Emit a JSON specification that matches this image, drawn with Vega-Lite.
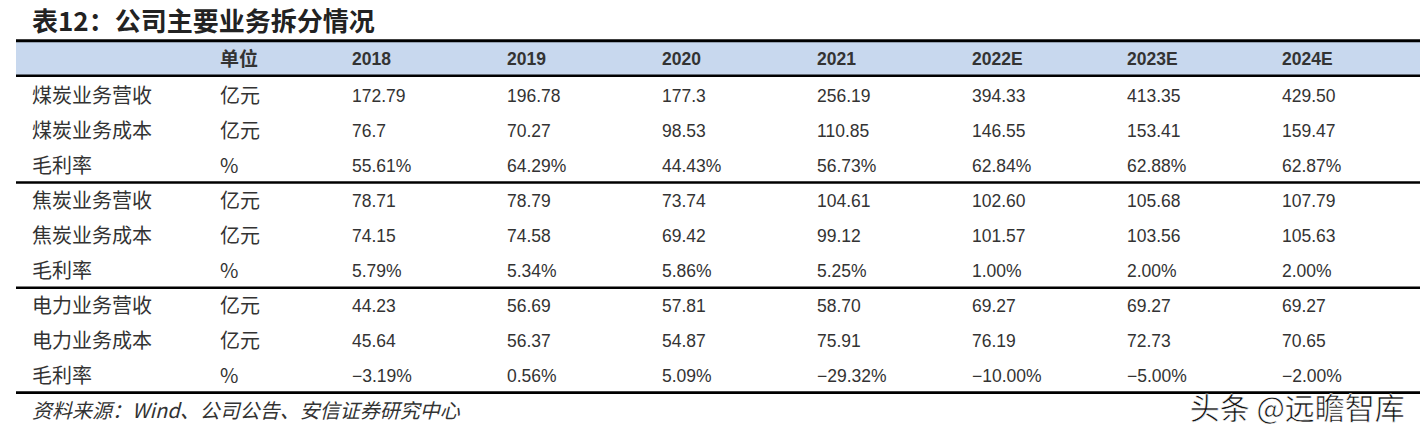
{
  "$schema": "https://vega.github.io/schema/vega-lite/v6.json",
  "width": 1420,
  "height": 438,
  "autosize": {"type": "fit", "contains": "padding"},
  "padding": 0,
  "background": "white",
  "config": {"view": {"stroke": null}},
  "datasets": {
    "cells": [
      {"r": 0, "c": 1, "t": "单位"},
      {"r": 0, "c": 2, "t": "2018"},
      {"r": 0, "c": 3, "t": "2019"},
      {"r": 0, "c": 4, "t": "2020"},
      {"r": 0, "c": 5, "t": "2021"},
      {"r": 0, "c": 6, "t": "2022E"},
      {"r": 0, "c": 7, "t": "2023E"},
      {"r": 0, "c": 8, "t": "2024E"},

      {"r": 1, "c": 0, "t": "煤炭业务营收"},
      {"r": 1, "c": 1, "t": "亿元"},
      {"r": 1, "c": 2, "t": "172.79"},
      {"r": 1, "c": 3, "t": "196.78"},
      {"r": 1, "c": 4, "t": "177.3"},
      {"r": 1, "c": 5, "t": "256.19"},
      {"r": 1, "c": 6, "t": "394.33"},
      {"r": 1, "c": 7, "t": "413.35"},
      {"r": 1, "c": 8, "t": "429.50"},

      {"r": 2, "c": 0, "t": "煤炭业务成本"},
      {"r": 2, "c": 1, "t": "亿元"},
      {"r": 2, "c": 2, "t": "76.7"},
      {"r": 2, "c": 3, "t": "70.27"},
      {"r": 2, "c": 4, "t": "98.53"},
      {"r": 2, "c": 5, "t": "110.85"},
      {"r": 2, "c": 6, "t": "146.55"},
      {"r": 2, "c": 7, "t": "153.41"},
      {"r": 2, "c": 8, "t": "159.47"},

      {"r": 3, "c": 0, "t": "毛利率"},
      {"r": 3, "c": 1, "t": "%"},
      {"r": 3, "c": 2, "t": "55.61%"},
      {"r": 3, "c": 3, "t": "64.29%"},
      {"r": 3, "c": 4, "t": "44.43%"},
      {"r": 3, "c": 5, "t": "56.73%"},
      {"r": 3, "c": 6, "t": "62.84%"},
      {"r": 3, "c": 7, "t": "62.88%"},
      {"r": 3, "c": 8, "t": "62.87%"},

      {"r": 4, "c": 0, "t": "焦炭业务营收"},
      {"r": 4, "c": 1, "t": "亿元"},
      {"r": 4, "c": 2, "t": "78.71"},
      {"r": 4, "c": 3, "t": "78.79"},
      {"r": 4, "c": 4, "t": "73.74"},
      {"r": 4, "c": 5, "t": "104.61"},
      {"r": 4, "c": 6, "t": "102.60"},
      {"r": 4, "c": 7, "t": "105.68"},
      {"r": 4, "c": 8, "t": "107.79"},

      {"r": 5, "c": 0, "t": "焦炭业务成本"},
      {"r": 5, "c": 1, "t": "亿元"},
      {"r": 5, "c": 2, "t": "74.15"},
      {"r": 5, "c": 3, "t": "74.58"},
      {"r": 5, "c": 4, "t": "69.42"},
      {"r": 5, "c": 5, "t": "99.12"},
      {"r": 5, "c": 6, "t": "101.57"},
      {"r": 5, "c": 7, "t": "103.56"},
      {"r": 5, "c": 8, "t": "105.63"},

      {"r": 6, "c": 0, "t": "毛利率"},
      {"r": 6, "c": 1, "t": "%"},
      {"r": 6, "c": 2, "t": "5.79%"},
      {"r": 6, "c": 3, "t": "5.34%"},
      {"r": 6, "c": 4, "t": "5.86%"},
      {"r": 6, "c": 5, "t": "5.25%"},
      {"r": 6, "c": 6, "t": "1.00%"},
      {"r": 6, "c": 7, "t": "2.00%"},
      {"r": 6, "c": 8, "t": "2.00%"},

      {"r": 7, "c": 0, "t": "电力业务营收"},
      {"r": 7, "c": 1, "t": "亿元"},
      {"r": 7, "c": 2, "t": "44.23"},
      {"r": 7, "c": 3, "t": "56.69"},
      {"r": 7, "c": 4, "t": "57.81"},
      {"r": 7, "c": 5, "t": "58.70"},
      {"r": 7, "c": 6, "t": "69.27"},
      {"r": 7, "c": 7, "t": "69.27"},
      {"r": 7, "c": 8, "t": "69.27"},

      {"r": 8, "c": 0, "t": "电力业务成本"},
      {"r": 8, "c": 1, "t": "亿元"},
      {"r": 8, "c": 2, "t": "45.64"},
      {"r": 8, "c": 3, "t": "56.37"},
      {"r": 8, "c": 4, "t": "54.87"},
      {"r": 8, "c": 5, "t": "75.91"},
      {"r": 8, "c": 6, "t": "76.19"},
      {"r": 8, "c": 7, "t": "72.73"},
      {"r": 8, "c": 8, "t": "70.65"},

      {"r": 9, "c": 0, "t": "毛利率"},
      {"r": 9, "c": 1, "t": "%"},
      {"r": 9, "c": 2, "t": "−3.19%"},
      {"r": 9, "c": 3, "t": "0.56%"},
      {"r": 9, "c": 4, "t": "5.09%"},
      {"r": 9, "c": 5, "t": "−29.32%"},
      {"r": 9, "c": 6, "t": "−10.00%"},
      {"r": 9, "c": 7, "t": "−5.00%"},
      {"r": 9, "c": 8, "t": "−2.00%"}
    ],
    "rules": [
      {"at": 0.4},
      {"at": 3.45},
      {"at": 6.46},
      {"at": 9.455}
    ]
  },
  "layer": [
    {
      "data": {"values": [{}]},
      "mark": {"type": "rect", "color": "#c8d8ee"},
      "encoding": {
        "x": {"datum": -1, "type": "quantitative", "scale": {"domain": [-1, 0, 1, 2, 8, 9], "range": [16, 32, 220, 352, 1282, 1420]}, "axis": null},
        "x2": {"datum": 9},
        "y": {"datum": -0.61, "type": "quantitative", "scale": {"domain": [-1.763, 10.751], "reverse": true, "nice": false, "zero": false}, "axis": null},
        "y2": {"datum": 0.4}
      }
    },
    {
      "data": {"values": [{}]},
      "mark": {"type": "rule", "color": "#000000", "strokeWidth": 3},
      "encoding": {
        "x": {"datum": -1, "type": "quantitative"},
        "x2": {"datum": 9},
        "y": {"datum": -0.6, "type": "quantitative"}
      }
    },
    {
      "data": {"name": "rules"},
      "mark": {"type": "rule", "color": "#000000", "strokeWidth": 2.6},
      "encoding": {
        "x": {"datum": -1, "type": "quantitative"},
        "x2": {"datum": 9},
        "y": {"field": "at", "type": "quantitative"}
      }
    },
    {
      "data": {"name": "cells"},
      "transform": [{"filter": "datum.r > 0 && datum.c <= 1"}],
      "mark": {"type": "text", "align": "left", "baseline": "middle", "font": "Noto Sans CJK SC", "fontSize": 20, "color": "#333333"},
      "encoding": {
        "x": {"field": "c", "type": "quantitative"},
        "y": {"field": "r", "type": "quantitative"},
        "text": {"field": "t"}
      }
    },
    {
      "data": {"name": "cells"},
      "transform": [{"filter": "datum.r > 0 && datum.c >= 2"}],
      "mark": {"type": "text", "align": "left", "baseline": "middle", "font": "Liberation Sans", "fontSize": 17.5, "color": "#333333"},
      "encoding": {
        "x": {"field": "c", "type": "quantitative"},
        "y": {"field": "r", "type": "quantitative"},
        "text": {"field": "t"}
      }
    },
    {
      "data": {"name": "cells"},
      "transform": [{"filter": "datum.r == 0 && datum.c == 1"}],
      "mark": {"type": "text", "align": "left", "baseline": "middle", "dy": -2, "font": "Noto Sans CJK SC", "fontSize": 19, "fontWeight": "bold", "color": "#333333"},
      "encoding": {
        "x": {"field": "c", "type": "quantitative"},
        "y": {"field": "r", "type": "quantitative"},
        "text": {"field": "t"}
      }
    },
    {
      "data": {"name": "cells"},
      "transform": [{"filter": "datum.r == 0 && datum.c >= 2"}],
      "mark": {"type": "text", "align": "left", "baseline": "middle", "dy": -2, "font": "Liberation Sans", "fontSize": 17.5, "fontWeight": "bold", "color": "#333333"},
      "encoding": {
        "x": {"field": "c", "type": "quantitative"},
        "y": {"field": "r", "type": "quantitative"},
        "text": {"field": "t"}
      }
    },
    {
      "data": {"values": [{"t": "表12：公司主要业务拆分情况"}]},
      "mark": {"type": "text", "align": "left", "baseline": "middle", "font": "Noto Sans CJK SC", "fontSize": 26, "fontWeight": "bold", "color": "#222222"},
      "encoding": {
        "x": {"datum": 0, "type": "quantitative"},
        "y": {"datum": -1.1, "type": "quantitative"},
        "text": {"field": "t"}
      }
    },
    {
      "data": {"values": [{"t": "资料来源：Wind、公司公告、安信证券研究中心"}]},
      "mark": {"type": "text", "align": "left", "baseline": "middle", "font": "Noto Sans CJK SC", "fontSize": 20, "fontStyle": "italic", "color": "#333333"},
      "encoding": {
        "x": {"datum": 0, "type": "quantitative"},
        "y": {"datum": 10.0, "type": "quantitative"},
        "text": {"field": "t"}
      }
    },
    {
      "data": {"values": [{"t": "头条 @远瞻智库"}]},
      "mark": {"type": "text", "align": "right", "baseline": "middle", "font": "Noto Sans CJK SC", "fontSize": 30, "color": "#111111", "stroke": "#ffffff", "strokeWidth": 0.6},
      "encoding": {
        "x": {"datum": 8.89, "type": "quantitative"},
        "y": {"datum": 9.95, "type": "quantitative"},
        "text": {"field": "t"}
      }
    }
  ]
}
